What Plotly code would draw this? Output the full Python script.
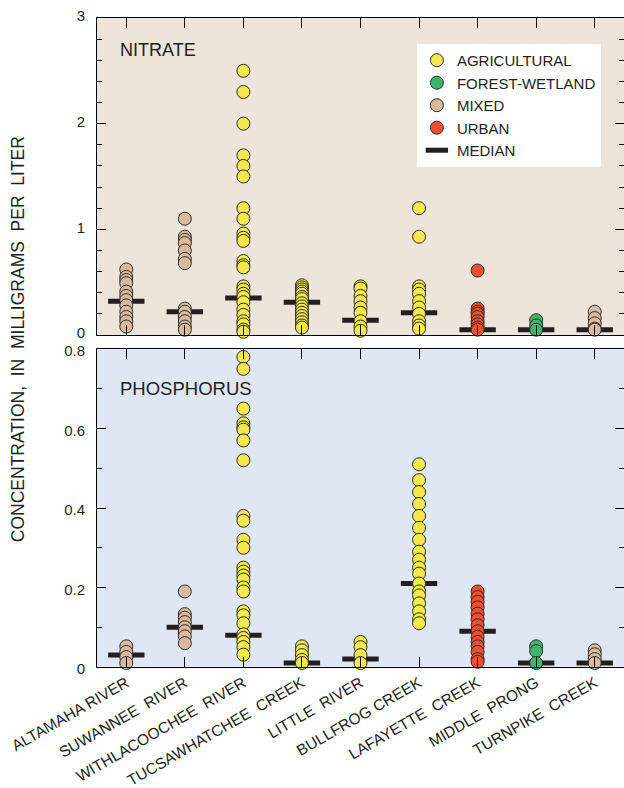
import plotly.graph_objects as go

sites = ["ALTAMAHA RIVER", "SUWANNEE RIVER", "WITHLACOOCHEE RIVER", "TUCSAWHATCHEE CREEK",
         "LITTLE RIVER", "BULLFROG CREEK", "LAFAYETTE CREEK", "MIDDLE PRONG", "TURNPIKE CREEK"]
NB = "\u00a0 "
site_labels = ["ALTAMAHA RIVER", "SUWANNEE" + NB + "RIVER", "WITHLACOOCHEE" + NB + "RIVER",
               "TUCSAWHATCHEE" + NB + "CREEK", "LITTLE" + NB + "RIVER", "BULLFROG CREEK",
               "LAFAYETTE" + NB + "CREEK", "MIDDLE" + NB + "PRONG", "TURNPIKE" + NB + "CREEK"]
site_landuse = ["MIXED", "MIXED", "AGRICULTURAL", "AGRICULTURAL", "AGRICULTURAL",
                "AGRICULTURAL", "URBAN", "FOREST-WETLAND", "MIXED"]
landuse_types = ["AGRICULTURAL", "FOREST-WETLAND", "MIXED", "URBAN"]
landuse_colors = ["#F5E84E", "#3DB86A", "#D9BA9E", "#F0502E"]

# Nitrate, mg/L
nitrate_altamaha = [0.62, 0.55, 0.52, 0.49, 0.41, 0.37, 0.33, 0.28, 0.22, 0.17, 0.13, 0.08]
nitrate_suwannee = [1.10, 0.93, 0.90, 0.87, 0.80, 0.72, 0.68, 0.25, 0.22, 0.17, 0.13, 0.08, 0.05]
nitrate_withlacoochee = [2.50, 2.30, 2.00, 1.70, 1.60, 1.50, 1.20, 1.10, 0.96, 0.92, 0.89, 0.70,
                         0.66, 0.64, 0.46, 0.43, 0.39, 0.36, 0.31, 0.24, 0.19, 0.13, 0.10, 0.05, 0.03]
nitrate_tucsawhatchee = [0.47, 0.45, 0.43, 0.41, 0.39, 0.36, 0.34, 0.30, 0.27, 0.24, 0.21, 0.18,
                         0.15, 0.12, 0.09, 0.07]
nitrate_little = [0.46, 0.44, 0.37, 0.32, 0.26, 0.21, 0.13, 0.08, 0.04]
nitrate_bullfrog = [1.20, 0.93, 0.46, 0.43, 0.39, 0.32, 0.26, 0.20, 0.13, 0.09, 0.06]
nitrate_lafayette = [0.61, 0.25, 0.22, 0.20, 0.17, 0.13, 0.10, 0.07, 0.05]
nitrate_middle = [0.14, 0.09, 0.05]
nitrate_turnpike = [0.22, 0.16, 0.11, 0.06, 0.05]
nitrate_medians = [0.32, 0.22, 0.35, 0.31, 0.14, 0.21, 0.05, 0.05, 0.05]

# Phosphorus, mg/L
phos_altamaha = [0.052, 0.038, 0.025, 0.01]
phos_suwannee = [0.19, 0.133, 0.124, 0.113, 0.10, 0.09, 0.077, 0.06]
phos_withlacoochee = [0.78, 0.75, 0.65, 0.613, 0.603, 0.597, 0.57, 0.52, 0.38, 0.368, 0.32, 0.30,
                      0.25, 0.24, 0.23, 0.22, 0.20, 0.19, 0.14, 0.13, 0.11, 0.082, 0.073, 0.063,
                      0.05, 0.031]
phos_tucsawhatchee = [0.052, 0.042, 0.03, 0.018, 0.01]
phos_little = [0.063, 0.05, 0.03, 0.01]
phos_bullfrog = [0.51, 0.47, 0.44, 0.41, 0.38, 0.35, 0.32, 0.29, 0.27, 0.25, 0.235, 0.21, 0.19,
                 0.18, 0.16, 0.14, 0.12, 0.11]
phos_lafayette = [0.19, 0.176, 0.164, 0.15, 0.134, 0.12, 0.105, 0.09, 0.076, 0.063, 0.052, 0.038,
                  0.02, 0.013]
phos_middle = [0.052, 0.04, 0.01]
phos_turnpike = [0.042, 0.032, 0.02, 0.01]
phos_medians = [0.03, 0.10, 0.08, 0.01, 0.02, 0.21, 0.09, 0.01, 0.01]

nitrate_values = [nitrate_altamaha, nitrate_suwannee, nitrate_withlacoochee, nitrate_tucsawhatchee,
                  nitrate_little, nitrate_bullfrog, nitrate_lafayette, nitrate_middle, nitrate_turnpike]
phos_values = [phos_altamaha, phos_suwannee, phos_withlacoochee, phos_tucsawhatchee,
               phos_little, phos_bullfrog, phos_lafayette, phos_middle, phos_turnpike]

FONT = "Liberation Sans, Arial, Helvetica, sans-serif"
TXT = "#231F20"
MEDIAN_COLOR = "#231F20"

fig = go.Figure()

panels = [("x2", "y2", nitrate_values, nitrate_medians, True),
          ("x", "y", phos_values, phos_medians, False)]

for xa, ya, values, medians, show in panels:
    # medians drawn first (points on top)
    fig.add_trace(go.Scatter(
        x=sites, y=medians, xaxis=xa, yaxis=ya, mode="markers", name="MEDIAN",
        legendrank=5, showlegend=show, cliponaxis=False, hoverinfo="skip",
        marker=dict(symbol="line-ew", size=26, color=MEDIAN_COLOR,
                    line=dict(color=MEDIAN_COLOR, width=5)),
    ))
    for rank, (lu, col) in enumerate(zip(landuse_types, landuse_colors)):
        xs, ys = [], []
        for s, l, v in zip(sites, site_landuse, values):
            if l == lu:
                xs += [s] * len(v)
                ys += v
        fig.add_trace(go.Scatter(
            x=xs, y=ys, xaxis=xa, yaxis=ya, mode="markers", name=lu,
            legendrank=rank + 1, showlegend=show, cliponaxis=False,
            marker=dict(symbol="circle", size=13, color=col,
                        line=dict(color="#2b2b2b", width=1)),
        ))

xcommon = dict(type="category", categoryorder="array", categoryarray=sites,
               range=[-0.5, 8.5], showline=True, linecolor="black", linewidth=1,
               mirror="ticks", ticks="inside", ticklen=10, tickcolor="black",
               showgrid=False, zeroline=False)
ycommon = dict(showline=True, linecolor="black", linewidth=1, mirror="ticks",
               ticks="inside", ticklen=9, tickcolor="black", showgrid=False, zeroline=False,
               tickfont=dict(family=FONT, size=15, color=TXT), ticklabelstandoff=8)

top_dom = [0.5116, 1.0]
bot_dom = [0.0, 0.49]

fig.update_layout(
    width=624, height=788,
    margin=dict(l=97, r=0, t=18, b=121),
    paper_bgcolor="white", plot_bgcolor="rgba(0,0,0,0)",
    font=dict(family=FONT, color=TXT),
    xaxis=dict(**xcommon, anchor="y", tickangle=-30, tickvals=sites, ticktext=site_labels,
               tickfont=dict(family=FONT, size=15.5, color=TXT)),
    xaxis2=dict(**xcommon, anchor="y2", matches="x", showticklabels=False),
    yaxis=dict(**ycommon, domain=bot_dom, anchor="x", range=[0, 0.8], ticklabelshift=2,
               tickvals=[0, 0.2, 0.4, 0.6, 0.8], ticktext=["0", "0.2", "0.4", "0.6", "0.8"],
               minor=dict(dtick=0.1, ticks="inside", ticklen=5, tickcolor="black")),
    yaxis2=dict(**ycommon, domain=top_dom, anchor="x2", range=[0, 3], dtick=1,
                ticklabelshift=-2,
                minor=dict(dtick=0.2, ticks="inside", ticklen=5, tickcolor="black")),
    legend=dict(x=0.607, y=0.96, xanchor="left", yanchor="top", bgcolor="white",
                borderwidth=0, font=dict(family=FONT, size=15, color=TXT),
                traceorder="normal", itemclick=False),
    shapes=[
        dict(type="rect", xref="x2 domain", yref="y2 domain", x0=0, x1=1, y0=0, y1=1,
             fillcolor="#EDE5D9", line=dict(width=0), layer="below"),
        dict(type="rect", xref="x domain", yref="y domain", x0=0, x1=1, y0=0, y1=1,
             fillcolor="#DFE7F4", line=dict(width=0), layer="below"),
    ],
    annotations=[
        dict(text="NITRATE", xref="x2 domain", yref="y2 domain", x=0.04, y=0.9,
             xanchor="left", yanchor="middle", showarrow=False,
             font=dict(family=FONT, size=18, color=TXT)),
        dict(text="PHOSPHORUS", xref="x domain", yref="y domain", x=0.04, y=0.877,
             xanchor="left", yanchor="middle", showarrow=False,
             font=dict(family=FONT, size=18.5, color=TXT)),
        dict(text="CONCENTRATION," + NB + "IN" + NB + "MILLIGRAMS" + NB + "PER" + NB + "LITER",
             xref="paper", yref="paper",
             x=-0.15, y=0.505, xanchor="center", yanchor="middle", textangle=-90,
             showarrow=False, font=dict(family=FONT, size=17.5, color=TXT)),
    ],
)

fig.write_html("out.html")
